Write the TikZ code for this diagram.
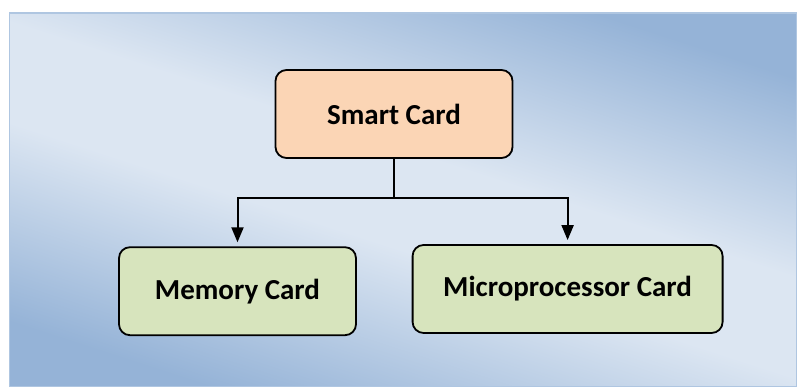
\documentclass[tikz,border=0pt]{standalone}
\usepackage{fontspec}
\setmainfont{Carlito}
\usetikzlibrary{arrows.meta}
\definecolor{bgblue}{HTML}{95B3D7}
\definecolor{bglight}{HTML}{DCE6F2}
\definecolor{cardorange}{HTML}{FBD5B5}
\definecolor{cardgreen}{HTML}{D7E4BD}
\pgfdeclarehorizontalshading{bgwash}{100bp}{color(0bp)=(bgblue); color(25bp)=(bgblue); color(45bp)=(bglight); color(55bp)=(bglight); color(75bp)=(bgblue); color(100bp)=(bgblue)}

\begin{document}
\begin{tikzpicture}[x=1pt,y=1pt,
    card/.style={draw=black,line width=1.8pt,rounded corners=11pt,minimum height=88pt,
      inner sep=0pt,font=\fontsize{29}{34}\selectfont\bfseries},
    link/.style={line width=2pt},
    linkarrow/.style={link,-{Triangle[length=15pt,width=12pt]},shorten >=4pt}]
    \useasboundingbox(0,0)rectangle(797,387);
    \shade[shading=bgwash,shading angle=72,draw=bgblue!75!white,line width=1.2pt](9.5,0)rectangle(797,374);
    \node[card,fill=cardorange,minimum width=237pt](smart)at(394,273){Smart Card};
    \node[card,fill=cardgreen,minimum width=237pt](memory)at(237.5,95.8){Memory Card};
    \node[card,fill=cardgreen,minimum width=310pt](micro)at(567.6,98){Microprocessor Card};
    \coordinate(split)at(394,188.5);
    \draw[link](smart)--(split);
    \draw[linkarrow](split)-|(memory);
    \draw[linkarrow](split)-|(micro);
    % \draw[link](split)--(split-|micro);
\end{tikzpicture}
\end{document}
